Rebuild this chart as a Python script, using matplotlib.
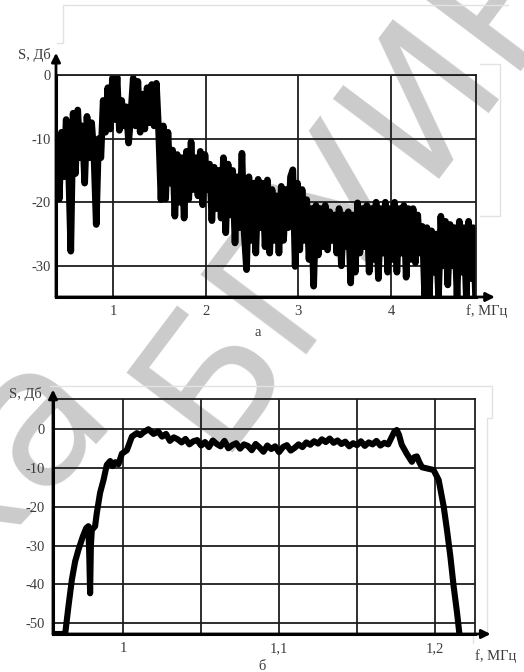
import matplotlib.pyplot as plt
import numpy as np
from matplotlib.lines import Line2D
from matplotlib.textpath import TextPath
from matplotlib.font_manager import FontProperties

plt.rcParams['font.family'] = ['Liberation Serif', 'DejaVu Serif']

# рис. а: уровень спектра (дБ), шаг 0.025 МГц начиная с 0.39 МГц
s_a = [
    -10, -19.5, -9, -16, -7, -14, -27.7, -6, -15.5, -5.5,
    -13, -8, -17, -6.5, -13, -7.5, -12.5, -23.5, -10, -13,
    -4, -9, -2, -8.5, -0.5, -7, -0.3, -8.7, -4, -8,
    -5, -10.7, -6, -0.5, -8, -1, -9, -3, -8.5, -2,
    -7.5, -1.5, -8, -1.3, -9, -19.6, -8, -19.5, -9, -17,
    -11.8, -22.2, -12.5, -20, -13, -22.5, -12, -19.5, -10.5, -18,
    -13, -19, -12, -20.4, -12.5, -18, -14, -22.9, -14.5, -21,
    -15, -22.5, -13, -24.8, -14, -22, -15, -26.4, -16, -24,
    -12.3, -25, -30.6, -16, -26, -17, -28, -16.4, -24, -17,
    -27, -16.5, -28, -18, -26, -19, -28, -17.5, -26, -18,
    -24, -16, -14.9, -30.1, -17, -27.5, -18, -26, -19.6, -29,
    -21, -33.2, -20.5, -28.3, -21, -27, -20.5, -27.5, -21.5, -26,
    -22, -28, -21, -30, -22, -27, -21.5, -32.7, -22, -31,
    -20.1, -28, -21, -27, -20.5, -31, -21, -29, -20, -32,
    -21, -28, -20, -31, -21, -29, -20, -31, -21, -28,
    -20.5, -31.8, -21, -29, -21, -29.5, -22, -28, -23.8, -34.8,
    -24, -34.8, -24.5, -31, -25, -34.8, -22.2, -30, -23, -33,
    -23.5, -30, -24, -34.8, -23, -31, -24, -34.8, -23, -32,
    -24, -34.8,
]
f_a = 0.39 + 0.025 * np.arange(len(s_a))

# рис. б
f_b = [0.955, 0.9628, 0.9649, 0.9671, 0.9692, 0.9713, 0.9741, 0.9763, 0.9777, 0.9783,
       0.9788, 0.9793, 0.9799, 0.9820, 0.9831, 0.9852, 0.9874, 0.9895, 0.9917, 0.9933,
       0.9949, 0.9970, 0.9992, 1.0024, 1.0056, 1.0088, 1.0110, 1.0130, 1.0162, 1.0195,
       1.0225, 1.0250, 1.0275, 1.0300, 1.0325, 1.0350, 1.0375, 1.0400, 1.0425, 1.0450,
       1.0475, 1.0500, 1.0525, 1.0550, 1.0575, 1.0600, 1.0625, 1.0650, 1.0675, 1.0700,
       1.0725, 1.0750, 1.0775, 1.0800, 1.0825, 1.0850, 1.0875, 1.0900, 1.0925, 1.0950,
       1.0975, 1.1000, 1.1025, 1.1050, 1.1075, 1.1100, 1.1125, 1.1150, 1.1175, 1.1200,
       1.1225, 1.1250, 1.1275, 1.1300, 1.1325, 1.1350, 1.1375, 1.1400, 1.1425, 1.1450,
       1.1475, 1.1500, 1.1525, 1.1550, 1.1575, 1.1600, 1.1625, 1.1650, 1.1675, 1.1700,
       1.1723, 1.1740, 1.1755, 1.1770, 1.1787, 1.1819, 1.1852, 1.1868, 1.1884, 1.1900,
       1.1917, 1.1949, 1.1991, 1.2024, 1.2056, 1.2077, 1.2099, 1.2120, 1.2142, 1.2157]
s_b = [-52.8, -52.8, -45.7, -38.8, -34.1, -31.1, -27.7, -25.5, -25.0, -33.0,
       -42.3, -30.0, -26.0, -25.0, -21.6, -16.4, -13.1, -9.2, -8.2, -9.5,
       -8.5, -9.0, -6.3, -5.4, -1.9, -1.0, -1.5, -0.8, 0.0, -1.2,
       -0.6, -1.9, -1.2, -3.0, -2.1, -2.6, -3.4, -2.5, -3.9, -3.1,
       -2.8, -4.2, -3.3, -4.6, -2.9, -3.8, -4.4, -3.0, -4.9, -4.1,
       -3.6, -5.0, -3.9, -4.3, -5.4, -3.8, -4.7, -5.8, -4.2, -5.1,
       -4.4, -5.9, -4.6, -4.1, -5.5, -4.8, -3.9, -4.6, -3.4, -4.0,
       -3.1, -3.7, -2.6, -3.3, -2.4, -3.5, -2.9, -3.8, -3.2, -4.4,
       -3.6, -4.1, -3.1, -4.3, -3.4, -3.9, -3.0, -4.2, -3.5, -3.9,
       -2.0, -0.6, -0.2, -1.5, -4.0, -6.3, -8.4, -7.2, -7.0, -8.5,
       -9.8, -10.1, -10.5, -13.1, -19.9, -25.9, -32.8, -40.5, -47.4, -52.8]

a_yticks = [0, -10, -20, -30]
a_xticks = [1, 2, 3, 4]
b_yticks = [0, -10, -20, -30, -40, -50]
b_xticks = [1, 1.05, 1.1, 1.15, 1.2]
b_xlabels = ['1', '', '1,1', '', '1,2']

W, H = 524, 672
fig = plt.figure(figsize=(W / 100, H / 100), dpi=100)

# водяной знак: два слова отдельно
wm = dict(color='#cbcbcb', family='DejaVu Sans', va='baseline',
          rotation_mode='anchor', zorder=-5)
ugol = np.radians(47)
d = TextPath((0, 0), ' БГУИР', size=140,
             prop=FontProperties(family='DejaVu Sans')).get_extents().x1 * 100 / 72
ex, ey = 585 - d * np.cos(ugol), -100 + d * np.sin(ugol)
fig.text(ex / W, 1 - ey / H, 'Библиотека', rotation=47, fontsize=140, ha='right', **wm)
fig.text(215 / W, 1 - 453 / H, 'БГУИР', rotation=53, fontsize=130, ha='left', **wm)

# бледные линии от скана
def px_line(xs, ys):
    fig.add_artist(Line2D([x / W for x in xs], [1 - y / H for y in ys],
                          color='#e2e2e2', lw=1, zorder=-4))

px_line([57, 63, 63, 508], [43, 43, 5, 5])
px_line([480, 500, 500, 480], [64, 64, 216, 216])
px_line([50, 492, 492, 487, 487, 473, 473], [386, 386, 418, 418, 633, 633, 643])

ax1 = fig.add_axes([56 / W, 1 - 297 / H, 420 / W, 222 / H])
ax2 = fig.add_axes([53 / W, 1 - 634 / H, 422 / W, 235 / H])


def oformit(ax, ytip, xtip, ypad, xpad):
    ax.set_facecolor('none')
    ax.tick_params(length=0, labelsize=10.5, colors='#3c3c3c')
    ax.tick_params(axis='y', pad=ypad)
    ax.tick_params(axis='x', pad=xpad)
    ax.grid(True, color='#1e1e1e', lw=1.3)
    ax.set_axisbelow(True)
    for s in ['top', 'right']:
        ax.spines[s].set_linewidth(1.3)
        ax.spines[s].set_color('#1e1e1e')
    for s in ['left', 'bottom']:
        ax.spines[s].set_linewidth(2.2)
    ax.annotate('', xy=(0, ytip), xytext=(0, 0), xycoords='axes fraction',
                arrowprops=dict(arrowstyle='-|>', lw=2, color='k', mutation_scale=13,
                                shrinkA=0, shrinkB=0), annotation_clip=False)
    ax.annotate('', xy=(xtip, 0), xytext=(0, 0), xycoords='axes fraction',
                arrowprops=dict(arrowstyle='-|>', lw=2, color='k', mutation_scale=13,
                                shrinkA=0, shrinkB=0), annotation_clip=False)


# а
ax1.plot(f_a, s_a, color='k', lw=4.8)
ax1.set_xlim(0.38, 4.92)
ax1.set_ylim(-34.9, 0)
ax1.set_xticks(a_xticks)
ax1.set_xticklabels([str(v) for v in a_xticks])
ax1.set_yticks(a_yticks)
ax1.set_yticklabels([str(v) for v in a_yticks])
oformit(ax1, 1.1, 1.045, 4, 6)
ax1.text(-0.012, 1.09, 'S, Дб', transform=ax1.transAxes, ha='right', va='center',
         fontsize=10.5, color='#3c3c3c')
ax1.text(0.975, -0.063, 'f, МГц', transform=ax1.transAxes, ha='left', va='center',
         fontsize=10.5, color='#3c3c3c')
fig.text(258 / W, 1 - 333 / H, 'а', ha='center', va='center', fontsize=10.5, color='#3c3c3c')

# б
ax2.plot(f_b, s_b, color='k', lw=4.4)
ax2.set_xlim(0.955, 1.2257)
ax2.set_ylim(-52.8, 7.8)
ax2.set_xticks(b_xticks)
ax2.set_xticklabels(b_xlabels)
ax2.set_yticks(b_yticks)
ax2.set_yticklabels([str(v) for v in b_yticks])
oformit(ax2, 1.04, 1.037, 6, 6)
ax2.text(-0.026, 1.02, 'S, Дб', transform=ax2.transAxes, ha='right', va='center',
         fontsize=10.5, color='#3c3c3c')
ax2.text(1.0, -0.094, 'f, МГц', transform=ax2.transAxes, ha='left', va='center',
         fontsize=10.5, color='#3c3c3c')
fig.text(262 / W, 1 - 666 / H, 'б', ha='center', va='center', fontsize=10.5, color='#3c3c3c')

fig.savefig('out.png', dpi=100)
